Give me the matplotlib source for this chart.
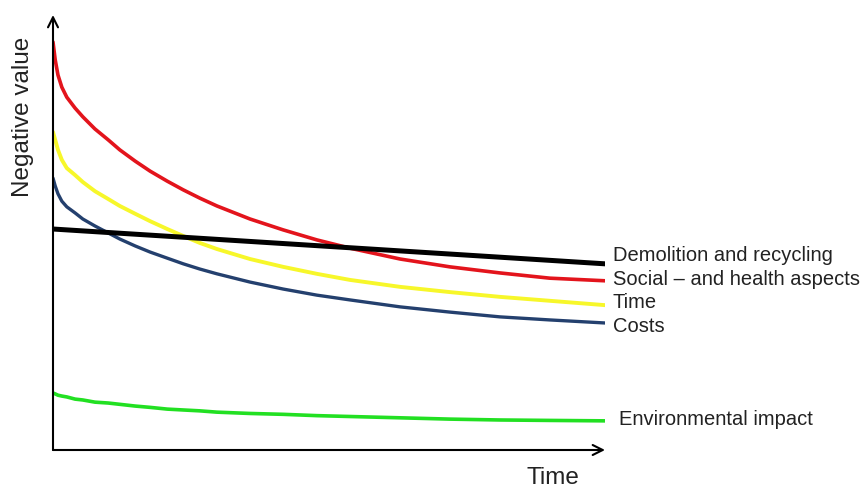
import matplotlib
matplotlib.use("Agg")
import matplotlib.pyplot as plt

# Data (arbitrary units)
time = [0, 0.04, 0.09, 0.16, 0.25, 0.4, 0.54, 0.76, 1.0, 1.21, 1.49, 1.76, 2.07,
        2.36, 2.66, 2.97, 3.57, 4.17, 4.78, 5.38, 6.29, 7.19, 8.1, 9.0, 10]
social_health = [9.38, 8.97, 8.62, 8.34, 8.11, 7.86, 7.66, 7.38, 7.13, 6.90, 6.64, 6.41,
                 6.18, 5.98, 5.79, 5.61, 5.31, 5.06, 4.83, 4.64, 4.39, 4.21, 4.07, 3.95, 3.89]
time_series = [7.31, 7.13, 6.90, 6.67, 6.48, 6.32, 6.16, 5.95, 5.77, 5.61, 5.43, 5.26,
               5.08, 4.92, 4.76, 4.62, 4.39, 4.21, 4.05, 3.91, 3.75, 3.63, 3.52, 3.43, 3.33]
costs = [6.25, 6.07, 5.89, 5.72, 5.59, 5.45, 5.31, 5.15, 4.99, 4.85, 4.69, 4.55,
         4.41, 4.28, 4.16, 4.05, 3.86, 3.70, 3.56, 3.45, 3.29, 3.17, 3.06, 2.99, 2.92]
environment = [1.31, 1.29, 1.26, 1.24, 1.22, 1.17, 1.15, 1.10, 1.08, 1.05, 1.01, 0.98,
               0.94, 0.92, 0.90, 0.87, 0.84, 0.82, 0.79, 0.77, 0.74, 0.71, 0.69, 0.68, 0.67]
demolition_time = [0, 10]
demolition = [5.08, 4.28]

labels = ["Demolition and recycling", "Social \u2013 and health aspects", "Time", "Costs",
          "Environmental impact"]

plt.rcParams['font.family'] = ['Liberation Sans', 'DejaVu Sans']

fig = plt.figure(figsize=(8.65, 4.88), dpi=100)
ax = fig.add_axes([53/865, 38/488, 552/865, 435/488])
ax.set_xlim(0, 10)
ax.set_ylim(0, 10)
ax.axis('off')

ax.plot(demolition_time, demolition, color='black', lw=3.6, solid_capstyle='round', zorder=3)
ax.plot(time, social_health, color='#e3141c', lw=2.6, solid_capstyle='round',
        solid_joinstyle='round', zorder=2)
ax.plot(time, time_series, color='#f7f72a', lw=2.8, solid_capstyle='round',
        solid_joinstyle='round', zorder=2)
ax.plot(time, costs, color='#24406e', lw=2.4, solid_capstyle='round',
        solid_joinstyle='round', zorder=2)
ax.plot(time, environment, color='#22e022', lw=2.6, solid_capstyle='round',
        solid_joinstyle='round', zorder=2)

# axes with arrows
ax.annotate('', xy=(10, 0), xytext=(0, 0), annotation_clip=False,
            arrowprops=dict(arrowstyle='->', lw=1.5, color='black', mutation_scale=18,
                            shrinkA=0, shrinkB=0))
ax.annotate('', xy=(0, 10), xytext=(0, 0), annotation_clip=False,
            arrowprops=dict(arrowstyle='->', lw=1.5, color='black', mutation_scale=18,
                            shrinkA=0, shrinkB=0))

label_x = [10.14, 10.14, 10.14, 10.14, 10.26]
label_y = [4.46, 3.91, 3.38, 2.85, 0.69]
for lab, xx, yy in zip(labels, label_x, label_y):
    ax.text(xx, yy, lab, fontsize=14.5, color='#222222', va='center', ha='left',
            clip_on=False)

fig.text(553/865, 1 - 478/488, 'Time', fontsize=17.5, color='#222222', ha='center', va='center')
fig.text(23/865, 1 - 117/488, 'Negative value', fontsize=17.5, color='#222222',
         ha='center', va='center', rotation=90)

fig.savefig('out.png', dpi=100, facecolor='white')
